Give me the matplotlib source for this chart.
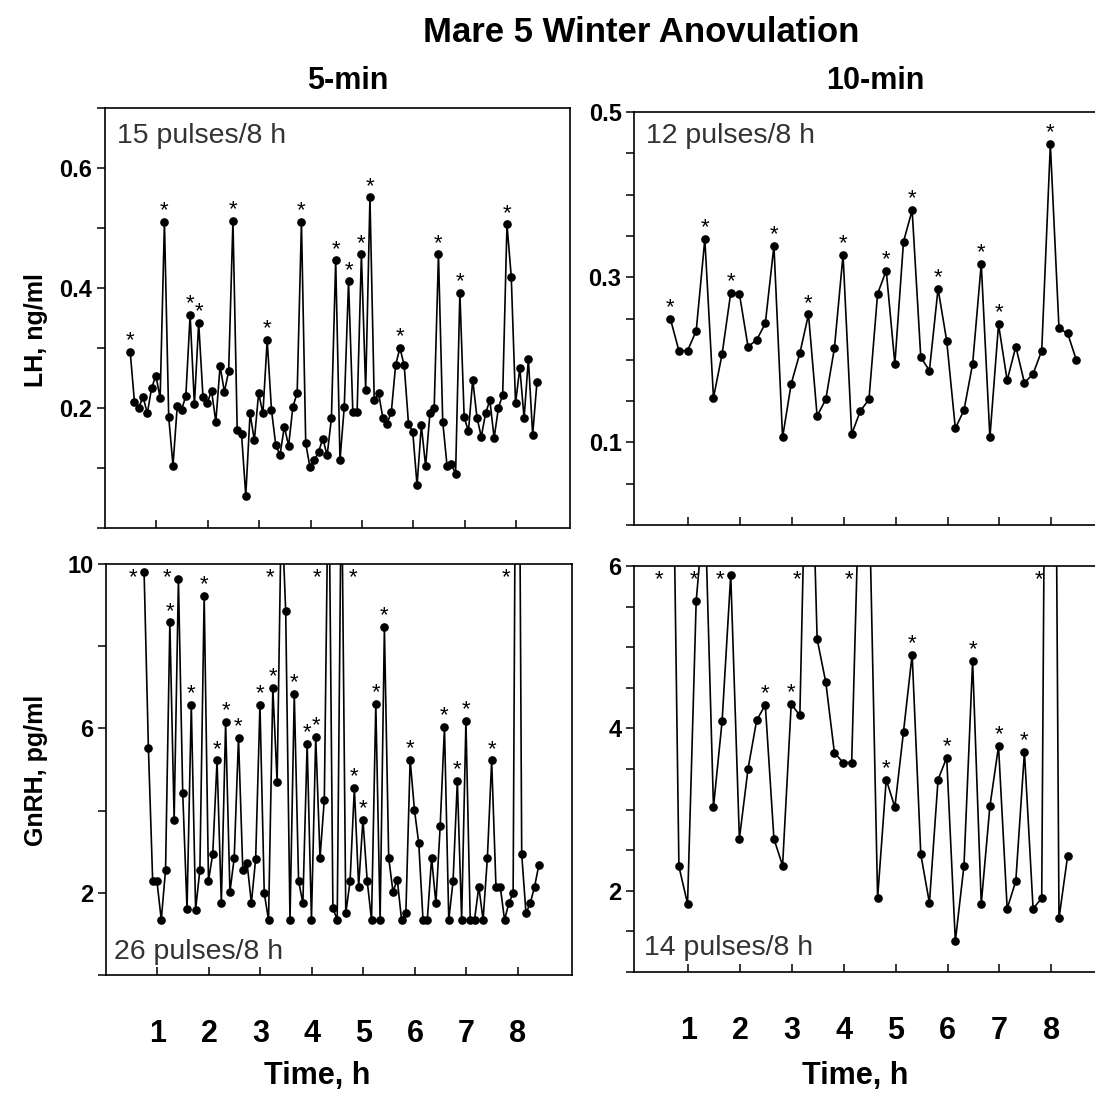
import matplotlib
matplotlib.use("Agg")
import matplotlib.pyplot as plt
import numpy as np

plt.rcParams['font.family'] = ['Liberation Sans', 'DejaVu Sans']

# LH, ng/ml - 5-min sampling
lh_5min = [0.294, 0.21, 0.20, 0.219, 0.191, 0.233, 0.254, 0.217, 0.51, 0.185,
           0.104, 0.204, 0.197, 0.22, 0.355, 0.206, 0.342, 0.219, 0.208, 0.229,
           0.177, 0.27, 0.227, 0.261, 0.512, 0.163, 0.157, 0.054, 0.191, 0.146,
           0.225, 0.191, 0.313, 0.197, 0.138, 0.122, 0.169, 0.137, 0.202, 0.225,
           0.51, 0.141, 0.101, 0.113, 0.127, 0.149, 0.121, 0.183, 0.446, 0.113,
           0.202, 0.411, 0.194, 0.194, 0.456, 0.23, 0.551, 0.213, 0.225, 0.184,
           0.174, 0.194, 0.272, 0.30, 0.271, 0.174, 0.16, 0.071, 0.171, 0.103,
           0.191, 0.20, 0.456, 0.177, 0.104, 0.107, 0.09, 0.392, 0.185, 0.161,
           0.247, 0.184, 0.152, 0.191, 0.213, 0.15, 0.20, 0.222, 0.506, 0.419,
           0.208, 0.267, 0.183, 0.282, 0.155, 0.243]
lh_5min_pulses = [0, 8, 14, 16, 24, 32, 40, 48, 51, 54, 56, 63, 72, 77, 88]

# LH, ng/ml - 10-min sampling
lh_10min = [0.25, 0.211, 0.211, 0.235, 0.346, 0.154, 0.207, 0.281, 0.28, 0.216,
            0.224, 0.244, 0.338, 0.106, 0.171, 0.208, 0.255, 0.132, 0.152, 0.214,
            0.327, 0.11, 0.138, 0.152, 0.28, 0.308, 0.195, 0.343, 0.381, 0.203,
            0.187, 0.286, 0.223, 0.117, 0.139, 0.195, 0.316, 0.106, 0.243, 0.175,
            0.216, 0.172, 0.183, 0.211, 0.461, 0.238, 0.232, 0.2]
lh_10min_pulses = [0, 4, 7, 12, 16, 20, 25, 28, 31, 36, 38, 44]

# GnRH, pg/ml - 5-min sampling (values above 10 run off the axis)
gnrh_5min = [9.8, 5.53, 2.28, 2.28, 1.34, 2.56, 8.58, 3.78, 9.63, 4.43,
             1.61, 6.57, 1.59, 2.56, 9.23, 2.29, 2.95, 5.22, 1.75, 6.15,
             2.02, 2.85, 5.77, 2.56, 2.72, 1.75, 2.83, 6.57, 1.99, 1.34,
             6.98, 4.69, 11.5, 8.85, 1.34, 6.83, 2.29, 1.75, 5.63, 1.34,
             5.79, 2.85, 4.27, 13.0, 1.63, 1.34, 12.5, 1.5, 2.28, 4.55,
             2.15, 3.78, 2.28, 1.34, 6.59, 1.34, 8.46, 2.85, 2.03, 2.32,
             1.34, 1.5, 5.24, 4.02, 3.21, 1.34, 1.34, 2.85, 1.75, 3.62,
             6.03, 1.34, 2.28, 4.72, 1.34, 6.18, 1.34, 1.34, 2.15, 1.34,
             2.85, 5.22, 2.15, 2.15, 1.34, 1.75, 1.99, 22.0, 2.94, 1.5,
             1.75, 2.15, 2.68]
gnrh_5min_pulses = [0, 6, 8, 11, 14, 17, 19, 22, 27, 30, 32, 35, 38, 40, 43, 46,
                    49, 51, 54, 56, 62, 70, 73, 75, 81, 87]

# GnRH, pg/ml - 10-min sampling
gnrh_10min = [10.0, 2.30, 1.84, 5.57, 6.8, 3.03, 4.09, 5.89, 2.64, 3.50,
              4.10, 4.29, 2.64, 2.31, 4.30, 4.16, 9.0, 5.10, 4.57, 3.70,
              3.58, 3.58, 7.5, 7.0, 1.91, 3.37, 3.03, 3.96, 4.91, 2.45,
              1.85, 3.37, 3.64, 1.38, 2.31, 4.83, 1.84, 3.04, 3.78, 1.78,
              2.12, 3.71, 1.78, 1.91, 18.0, 1.66, 2.43]
gnrh_10min_pulses = [0, 4, 7, 11, 14, 16, 22, 25, 28, 32, 35, 38, 41, 44]

# sampling schedule (h)
start_5min_lh = 0.49
start_5min_gnrh = 0.74
start_10min = 0.65

hours = [1, 2, 3, 4, 5, 6, 7, 8]

W, H = 1095, 1099
fig = plt.figure(figsize=(W / 100, H / 100), dpi=100)


def px_axes(left, top, right, bottom):
    return fig.add_axes([left / W, 1 - bottom / H, (right - left) / W, (bottom - top) / H])


def px_text(x, y, s, **kw):
    fig.text(x / W, 1 - y / H, s, **kw)


def draw_panel(ax, start, step_min, values, pulses, ylim, yticks, ylabels, xlim, star_right=()):
    t = start + np.arange(len(values)) * step_min / 60.0
    ax.plot(t, values, color='black', lw=1.2, marker='o', ms=5.2, mfc='black', mec='black')
    ax.set_xlim(*xlim)
    ax.set_ylim(*ylim)
    top = ylim[1]
    span = ylim[1] - ylim[0]
    for p in pulses:
        v = values[p]
        if v + span * 0.045 > top:
            dx = 8 if p in star_right else -8
            ax.annotate('*', xy=(t[p], top), xytext=(dx, -10), textcoords='offset points',
                        ha='center', va='center', fontsize=16, annotation_clip=False)
        else:
            ax.annotate('*', xy=(t[p], v), xytext=(0, 8), textcoords='offset points',
                        ha='center', va='center', fontsize=16)
    ax.set_yticks(yticks)
    ax.set_yticklabels(ylabels, fontsize=17, fontweight='bold')
    ax.set_xticks(hours)
    ax.tick_params(axis='x', direction='in', length=6, width=1.1)
    ax.tick_params(axis='y', direction='out', length=6, width=1.1, pad=3)
    for s in ax.spines.values():
        s.set_linewidth(1.2)


ax_tl = px_axes(105, 108, 570, 528)
draw_panel(ax_tl, start_5min_lh, 5, lh_5min, lh_5min_pulses, (0, 0.7),
           np.arange(0, 0.71, 0.1), ['', '', '0.2', '', '0.4', '', '0.6', ''], (0, 9.05))
ax_tl.tick_params(axis='x', labelbottom=False)

ax_tr = px_axes(634, 112, 1130, 525)
draw_panel(ax_tr, start_10min, 10, lh_10min, lh_10min_pulses, (0, 0.5),
           np.arange(0, 0.51, 0.05),
           ['', '', '0.1', '', '', '', '0.3', '', '', '', '0.5'], (-0.05, 9.52))
ax_tr.tick_params(axis='x', labelbottom=False)

ax_bl = px_axes(106, 564, 572, 975)
draw_panel(ax_bl, start_5min_gnrh, 5, gnrh_5min, gnrh_5min_pulses, (0, 10),
           [0, 2, 4, 6, 8, 10], ['', '2', '', '6', '', '10'], (0, 9.05), star_right=(46,))
ax_bl.set_xticklabels([str(h) for h in hours], fontsize=22, fontweight='bold')
ax_bl.tick_params(axis='x', pad=32)

ax_br = px_axes(634, 566, 1130, 972)
draw_panel(ax_br, start_10min, 10, gnrh_10min, gnrh_10min_pulses, (1, 6),
           np.arange(1, 6.01, 0.5), ['', '', '2', '', '', '', '4', '', '', '', '6'], (-0.05, 9.52))
ax_br.set_xticklabels([str(h) for h in hours], fontsize=22, fontweight='bold')
ax_br.tick_params(axis='x', pad=32)

# pulse counts
pulse_kw = dict(fontsize=20.5, color='#333333', va='baseline', ha='left')
px_text(117, 143, '15 pulses/8 h', **pulse_kw)
px_text(646, 143, '12 pulses/8 h', **pulse_kw)
px_text(114, 959, '26 pulses/8 h', **pulse_kw)
px_text(644, 955, '14 pulses/8 h', **pulse_kw)

# titles and axis labels
px_text(641, 33, 'Mare 5 Winter Anovulation', fontsize=25, fontweight='bold', ha='center', va='center')
px_text(348, 81, '5-min', fontsize=22, fontweight='bold', ha='center', va='center')
px_text(875, 81, '10-min', fontsize=22, fontweight='bold', ha='center', va='center')
px_text(36, 330, 'LH, ng/ml', fontsize=18, fontweight='bold', ha='center', va='center', rotation=90)
px_text(36, 770, 'GnRH, pg/ml', fontsize=18, fontweight='bold', ha='center', va='center', rotation=90)
px_text(317, 1076, 'Time, h', fontsize=22, fontweight='bold', ha='center', va='center')
px_text(855, 1076, 'Time, h', fontsize=22, fontweight='bold', ha='center', va='center')

fig.savefig('out.png', dpi=100)
